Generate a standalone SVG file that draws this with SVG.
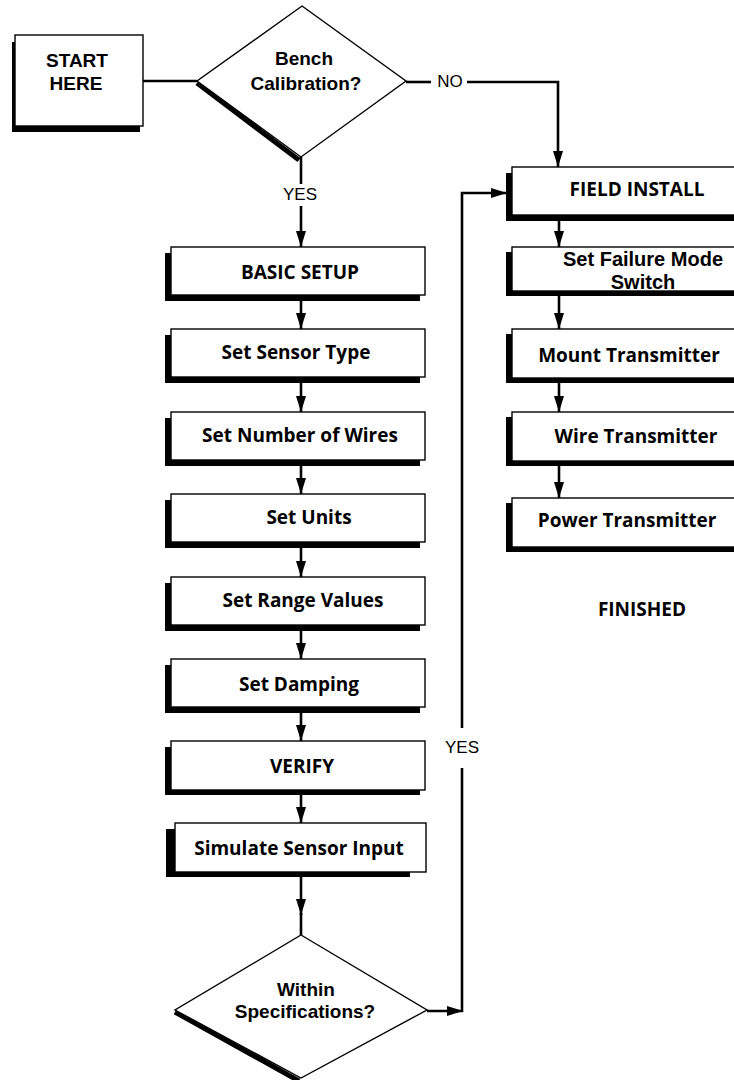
<svg xmlns="http://www.w3.org/2000/svg" width="734" height="1080" viewBox="0 0 734 1080">
<style>
.box{fill:#fff;stroke:#000;stroke-width:1.4}
.sh{fill:#000}
.dia{fill:#fff;stroke:#000;stroke-width:1.4;stroke-linejoin:miter}
.dsh{stroke:#000;stroke-width:5;fill:none}
.t{font-family:"Open Sans","Noto Sans",sans-serif;font-weight:bold;font-size:19px;text-anchor:middle;fill:#000}
.t2{font-family:"Liberation Sans",Arial,sans-serif;font-weight:bold;font-size:19px;text-anchor:middle;fill:#000}
.lbl{font-family:"Liberation Sans",Arial,sans-serif;font-size:17px;text-anchor:middle;fill:#000}
.c{fill:none;stroke:#000;stroke-width:2.6}
.a{marker-end:url(#arr)}
</style>
<defs>
<marker id="arr" markerUnits="userSpaceOnUse" markerWidth="16" markerHeight="10" refX="16" refY="5" orient="auto">
<path d="M0,0 L16,5 L0,10 z" fill="#000"/>
</marker>
</defs>
<rect width="734" height="1080" fill="#fff"/>
<g id="connectors">
<path class="c" d="M143,81 H197"/>
<path class="c" d="M406,82 H431"/>
<path class="c a" d="M467,82 H558 V167"/>
<path class="c" d="M301,157 V184"/>
<path class="c a" d="M301,206 V247"/>
<path class="c a" d="M301,301 V329"/>
<path class="c a" d="M301,383 V412"/>
<path class="c a" d="M301,466 V494"/>
<path class="c a" d="M301,548 V577"/>
<path class="c a" d="M301,631 V659"/>
<path class="c a" d="M301,713 V741"/>
<path class="c a" d="M301,795 V823"/>
<path class="c a" d="M301,877 V915"/>
<path class="c" d="M301,913 V935"/>
<path class="c a" d="M427,1011 H463"/>
<path class="c" d="M462,1012 V768"/>
<path class="c a" d="M462,728 V193 H507"/>
<path class="c a" d="M559,221 V247"/>
<path class="c a" d="M559,296 V329"/>
<path class="c a" d="M559,383 V412"/>
<path class="c a" d="M559,466 V498"/>
<text class="lbl" x="450" y="87">NO</text>
<text class="lbl" x="300" y="200">YES</text>
<text class="lbl" x="462" y="753">YES</text>
</g>
<g id="start">
<rect class="sh" x="12" y="42" width="128" height="90"/>
<rect class="box" x="15" y="35" width="128" height="91"/>
<text class="t2"><tspan x="77" y="67">START</tspan><tspan x="76" y="90">HERE</tspan></text>
</g>
<g id="bench">
<path class="dsh" d="M197,83 L299,160"/>
<polygon class="dia" points="302,6 406,81 301,157 197,81"/>
<text class="t2"><tspan x="304" y="65">Bench</tspan><tspan x="306" y="90">Calibration?</tspan></text>
</g>
<g id="basic-setup">
<rect class="sh" x="165" y="253" width="255" height="48"/>
<rect class="box" x="171" y="247" width="254" height="48"/>
<text class="t" x="300" y="279">BASIC SETUP</text>
</g>
<g id="sensor-type">
<rect class="sh" x="165" y="335" width="255" height="48"/>
<rect class="box" x="171" y="329" width="254" height="48"/>
<text class="t" x="296" y="359">Set Sensor Type</text>
</g>
<g id="wires">
<rect class="sh" x="165" y="418" width="255" height="48"/>
<rect class="box" x="171" y="412" width="254" height="48"/>
<text class="t" x="300" y="442">Set Number of Wires</text>
</g>
<g id="units">
<rect class="sh" x="165" y="500" width="255" height="48"/>
<rect class="box" x="171" y="494" width="254" height="48"/>
<text class="t" x="309" y="524">Set Units</text>
</g>
<g id="range">
<rect class="sh" x="165" y="583" width="255" height="48"/>
<rect class="box" x="171" y="577" width="254" height="48"/>
<text class="t" x="303" y="607">Set Range Values</text>
</g>
<g id="damping">
<rect class="sh" x="165" y="665" width="255" height="48"/>
<rect class="box" x="171" y="659" width="254" height="48"/>
<text class="t" x="299" y="691">Set Damping</text>
</g>
<g id="verify">
<rect class="sh" x="165" y="747" width="255" height="48"/>
<rect class="box" x="171" y="741" width="254" height="49"/>
<text class="t" x="302" y="773">VERIFY</text>
</g>
<g id="simulate">
<rect class="sh" x="166" y="829" width="244" height="48"/>
<rect class="box" x="175" y="823" width="251" height="49"/>
<text class="t" x="299" y="855">Simulate Sensor Input</text>
</g>
<g id="within">
<path class="dsh" d="M175,1012 L299,1081"/>
<polygon class="dia" points="301,935 427,1010 301,1078 175,1010"/>
<text class="t2"><tspan x="306" y="996">Within</tspan><tspan x="305" y="1018">Specifications?</tspan></text>
</g>
<g id="field-install">
<rect class="sh" x="506" y="173" width="240" height="48"/>
<rect class="box" x="512" y="167" width="240" height="48"/>
<text class="t" x="637" y="196">FIELD INSTALL</text>
</g>
<g id="failure-mode">
<rect class="sh" x="506" y="252" width="240" height="44"/>
<rect class="box" x="512" y="247" width="240" height="44"/>
<text class="t2" style="font-size:20px"><tspan x="643" y="266">Set Failure Mode</tspan><tspan x="643" y="289">Switch</tspan></text>
</g>
<g id="mount">
<rect class="sh" x="506" y="334" width="240" height="49"/>
<rect class="box" x="512" y="329" width="240" height="49"/>
<text class="t" x="629" y="362">Mount Transmitter</text>
</g>
<g id="wire">
<rect class="sh" x="506" y="417" width="240" height="49"/>
<rect class="box" x="512" y="412" width="240" height="49"/>
<text class="t" x="636" y="443">Wire Transmitter</text>
</g>
<g id="power">
<rect class="sh" x="506" y="503" width="240" height="49"/>
<rect class="box" x="512" y="498" width="240" height="49"/>
<text class="t" x="627" y="527">Power Transmitter</text>
</g>
<g id="finished">
<text class="t" x="642" y="616">FINISHED</text>
</g>
</svg>
